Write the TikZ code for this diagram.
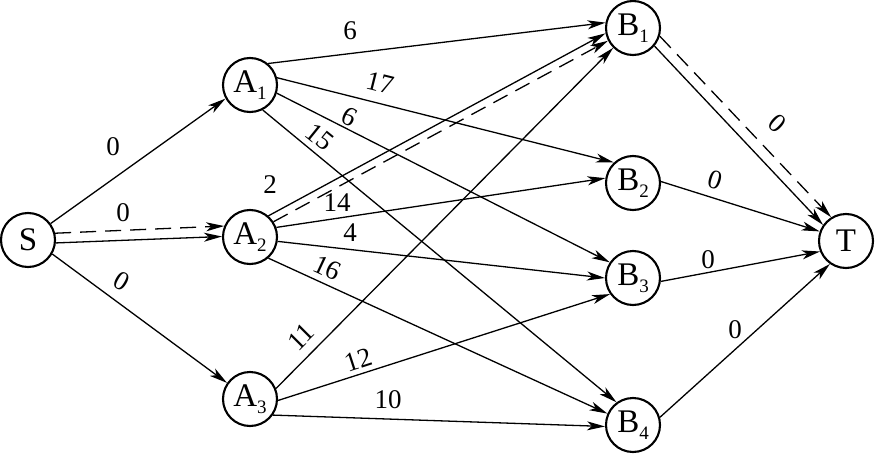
\documentclass[tikz,border=0pt]{standalone}
\usepackage{fontspec}
\setmainfont{Liberation Serif}
\usetikzlibrary{arrows.meta}
\newcommand{\mynd}[2]{#1\raisebox{-7pt}{\fontsize{19}{19}\selectfont #2}}
\begin{document}
\begin{tikzpicture}[x=1pt,y=-1pt,
  vert/.style={circle,draw,line width=2.1pt,minimum size=54pt,inner sep=0pt,font=\fontsize{33}{33}\selectfont},
  edge/.style={line width=1.3pt,-{Stealth[length=18pt,width=9pt,inset=5pt]}},
  dedge/.style={edge,dash pattern=on 16pt off 9pt},
  wt/.style={font=\fontsize{27}{27}\selectfont,inner sep=1pt}]
\useasboundingbox (0,0) rectangle (876,455);
% vertices
\node[vert] (S)  at (28,240)  {S};
\node[vert] (A1) at (250,85)  {\mynd{A}{1}};
\node[vert] (A2) at (250,237) {\mynd{A}{2}};
\node[vert] (A3) at (250,399) {\mynd{A}{3}};
\node[vert] (B1) at (633,28)  {\mynd{B}{1}};
\node[vert] (B2) at (633,183) {\mynd{B}{2}};
\node[vert] (B3) at (633,278) {\mynd{B}{3}};
\node[vert] (B4) at (633,425) {\mynd{B}{4}};
\node[vert] (T)  at (846,241) {T};
% edges
\draw[edge]  (S.36)   -- (A1.209);
\draw[edge]  (S.-6)   -- (A2.179);
\draw[dedge] (S.14)   -- (A2.157);
\draw[edge]  (S.-30)  -- (A3.145);
\draw[edge]  (A1.50)  -- (B1.169);
\draw[edge]  (A1.15)  -- (B2.133);
\draw[edge]  (A1.-17) -- (B3.146);
\draw[edge]  (A1.-63) -- (B4.126);
\draw[edge]  (A2.49)  -- (B1.191);
\draw[dedge] (A2.33)  -- (B1.207);
\draw[edge]  (A2.20)  -- (B2.170);
\draw[edge]  (A2.-9)  -- (B3.180);
\draw[edge]  (A2.-49) -- (B4.156);
\draw[edge]  (A3.22)  -- (B1.225);
\draw[edge]  (A3.-3)  -- (B3.215);
\draw[edge]  (A3.-35) -- (B4.183);
\draw[edge]  (B1.-40) -- (T.145);
\draw[dedge] (B1.-17) -- (T.122);
\draw[edge]  (B2.3)   -- (T.160);
\draw[edge]  (B3.-7)  -- (T.202);
\draw[edge]  (B4.16)  -- (T.235);
% weights
\node[wt] (wSA1) at (113,147) {0};
\node[wt] (wSA2) at (123,213) {0};
\node[wt,rotate=-30] (wSA3) at (122,281) {0};
\node[wt] (wA1B1) at (350,31) {6};
\node[wt,rotate=-14] (wA1B2) at (380,83) {17};
\node[wt,rotate=-27] (wA1B3) at (350,117) {6};
\node[wt,rotate=-39] (wA1B4) at (320,137) {15};
\node[wt] (wA2B1) at (270,185) {2};
\node[wt] (wA2B2) at (337,203) {14};
\node[wt] (wA2B3) at (350,233) {4};
\node[wt,rotate=-25] (wA2B4) at (327,268) {16};
\node[wt,rotate=45] (wA3B1) at (301,337) {11};
\node[wt,rotate=18] (wA3B3) at (358,360) {12};
\node[wt] (wA3B4) at (388,400) {10};
\node[wt,rotate=-42] (wB1T) at (777,123) {0};
\node[wt,rotate=-17] (wB2T) at (715,180) {0};
\node[wt] (wB3T) at (708,260) {0};
\node[wt] (wB4T) at (735,330) {0};
\end{tikzpicture}
\end{document}
